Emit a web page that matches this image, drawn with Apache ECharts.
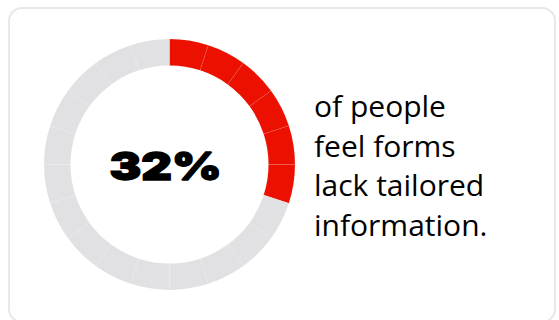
<!DOCTYPE html>
<html>
<head>
<meta charset="utf-8">
<script src="https://cdn.jsdelivr.net/npm/echarts@6/dist/echarts.min.js"></script>
<style>
html,body{margin:0;padding:0;background:#fff;}
#card{position:absolute;left:8px;top:7px;width:548px;height:316px;border:2px solid #e8e8e8;border-radius:14px;box-sizing:border-box;}
#chart{position:absolute;left:0;top:0;width:559px;height:320px;}
</style>
</head>
<body>
<div id="card"></div>
<div id="chart"></div>
<script>
// Data
const percentValue = 32;
const segmentValues = [5,5,5,5,5,5,5,5,5,5,5,5,5,5,5,5,5,5,5,5];
const segmentFilled = [1,1,1,1,1,1,0,0,0,0,0,0,0,0,0,0,0,0,0,0];
const captionLines = ['of people', 'feel forms', 'lack tailored', 'information.'];

const RED = '#eb1000';
const GRAY = '#e1e1e3';

const chart = echarts.init(document.getElementById('chart'), null, {renderer: 'svg'});
chart.setOption({
  animation: false,
  series: [{
    type: 'pie',
    center: [169.5, 164.5],
    radius: [99, 125.5],
    startAngle: 90,
    clockwise: true,
    silent: true,
    label: {show: false},
    labelLine: {show: false},
    itemStyle: {borderColor: 'rgba(255,255,255,0.14)', borderWidth: 0.5},
    data: segmentValues.map((v, i) => ({
      value: v,
      itemStyle: {color: segmentFilled[i] ? RED : GRAY}
    }))
  }],
  graphic: [
    {
      type: 'text',
      x: 165.5, y: 166,
      scaleX: 1.25,
      style: {
        text: percentValue + '%',
        fontSize: 38,
        fontWeight: 900,
        fontFamily: 'Inter',
        align: 'center',
        verticalAlign: 'middle',
        fill: '#000',
        stroke: '#000',
        lineWidth: 1.4
      }
    },
    {
      type: 'text',
      left: 314, top: 86,
      style: {
        text: captionLines.join('\n'),
        fontSize: 30,
        fontWeight: 400,
        fontFamily: 'Open Sans',
        lineHeight: 39.5,
        fill: '#000'
      }
    }
  ]
});
</script>
</body>
</html>
